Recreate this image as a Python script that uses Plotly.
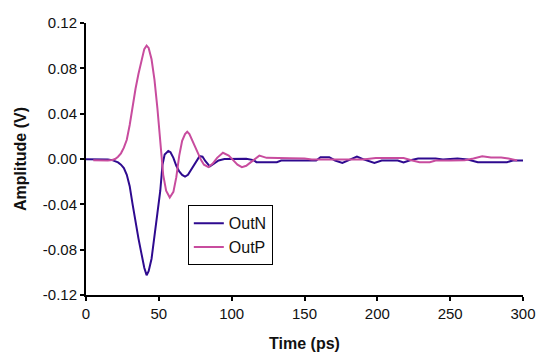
import plotly.graph_objects as go

# OutN (dark blue) samples: time (ps), amplitude (V)
t_n = [0, 5, 10, 15, 18, 20, 22, 24, 26, 28, 30, 32, 34, 36, 38, 40, 41.6, 43, 45, 47, 49, 51,
       52.5, 54, 56.5, 58, 60, 62, 64, 66, 68, 70, 72, 74, 76, 78, 80, 82, 85, 88, 91, 95, 100,
       110, 115, 117, 131, 134, 158, 161, 167, 171, 176, 180, 186, 191, 198, 203, 214, 218, 222,
       228, 240, 245, 255, 262, 269, 289, 293, 300]
v_n = [-0.0003, -0.0003, -0.0003, -0.0005, -0.001, -0.002, -0.003, -0.005, -0.008, -0.014,
       -0.024, -0.040, -0.056, -0.070, -0.083, -0.096, -0.1025, -0.099, -0.088, -0.070, -0.048,
       -0.028, -0.005, 0.004, 0.007, 0.006, 0.001, -0.006, -0.011, -0.014, -0.0155, -0.014,
       -0.010, -0.006, -0.002, 0.0025, 0.002, -0.002, -0.0065, -0.004, -0.0013, 0.0, 0.0002,
       0.0002, -0.001, -0.0028, -0.0028, -0.0013, -0.0013, 0.0016, 0.0016, -0.0013, -0.0034,
       -0.0013, 0.0022, -0.0005, -0.0034, -0.0013, -0.0013, -0.003, -0.0013, 0.0005, 0.0005,
       -0.0005, 0.0005, -0.0005, -0.0028, -0.0028, -0.0013, -0.0013]

# OutP (pink) samples
t_p = [5, 10, 15, 18, 20, 22, 24, 26, 28, 30, 32, 34, 36, 38, 40, 41.6, 43, 45, 47, 49, 51, 53,
       55, 57.5, 60, 62, 64, 66, 68, 69.5, 71, 73, 75, 77, 79, 81, 84, 87, 90, 94, 98, 101, 104,
       107, 110, 113, 116, 119, 124, 130, 140, 150, 155, 165, 175, 190, 199, 210, 218, 224, 229,
       236, 240, 250, 260, 266, 272, 278, 285, 290, 296]
v_p = [-0.001, -0.0013, -0.0013, -0.0008, 0.0, 0.002, 0.005, 0.010, 0.017, 0.030, 0.047, 0.062,
       0.075, 0.087, 0.097, 0.100, 0.098, 0.088, 0.070, 0.045, 0.018, -0.014, -0.028, -0.034,
       -0.029, -0.016, 0.003, 0.016, 0.022, 0.024, 0.022, 0.016, 0.010, 0.004, -0.001, -0.005,
       -0.0072, -0.004, 0.001, 0.0055, 0.003, -0.001, -0.005, -0.0072, -0.006, -0.003, 0.0,
       0.003, 0.001, 0.0007, 0.0007, 0.0005, -0.0004, -0.0004, -0.0004, -0.0004, 0.0008, 0.001,
       0.0008, -0.0013, -0.0028, -0.0028, -0.0013, -0.0013, -0.001, 0.0005, 0.0025, 0.0013,
       0.0013, 0.0005, -0.0013]

x_ticks = [0, 50, 100, 150, 200, 250, 300]
y_ticks = [-0.12, -0.08, -0.04, 0.0, 0.04, 0.08, 0.12]
y_labels = ["-0.12", "-0.08", "-0.04", "0.00", "0.04", "0.08", "0.12"]

BLUE = "#2E0A8F"
PINK = "#C84C9E"

fig = go.Figure()
fig.add_trace(go.Scatter(x=t_n, y=v_n, mode="lines", name="OutN",
                         line=dict(color=BLUE, width=2)))
fig.add_trace(go.Scatter(x=t_p, y=v_p, mode="lines", name="OutP",
                         line=dict(color=PINK, width=2)))

fig.update_layout(
    width=554, height=361,
    margin=dict(l=86, r=31, t=23, b=66),
    paper_bgcolor="white", plot_bgcolor="white",
    font=dict(family="Liberation Sans, Arial, sans-serif", color="#111111", size=15),
    showlegend=True,
    legend=dict(x=0.233, y=0.33, xanchor="left", yanchor="top",
                bordercolor="black", borderwidth=1, bgcolor="white",
                font=dict(family="Liberation Sans, Arial, sans-serif", size=16, color="#111111"),
                tracegroupgap=0, itemwidth=30),
)
fig.update_xaxes(range=[0, 300], tickvals=x_ticks, showgrid=False, zeroline=False,
                 showline=True, linecolor="black", linewidth=2,
                 ticks="outside", ticklen=4, tickwidth=2, tickcolor="black",
                 tickfont=dict(size=15),
                 title=dict(text="<b>Time (ps)</b>", font=dict(size=16), standoff=17))
fig.update_yaxes(range=[-0.12, 0.12], tickvals=y_ticks, ticktext=y_labels, showgrid=False,
                 zeroline=False, showline=True, linecolor="black", linewidth=2,
                 ticks="outside", ticklen=4, tickwidth=2, tickcolor="black",
                 tickfont=dict(size=15),
                 title=dict(text="<b>Amplitude (V)</b>", font=dict(size=16), standoff=12))

fig.write_html("out.html")
